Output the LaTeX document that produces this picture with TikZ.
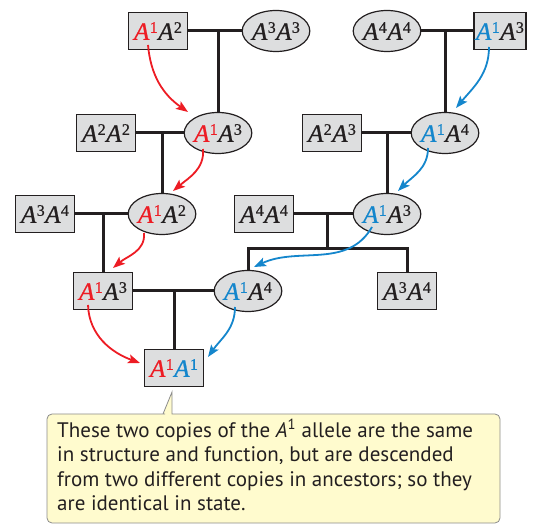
\documentclass[tikz,border=0pt]{standalone}
\usepackage{fontspec}
\setmainfont{Liberation Serif}
\newfontfamily\gfont[FakeBold=0.8]{Liberation Serif}
\newfontfamily\notefont{PT Sans}
\usetikzlibrary{arrows.meta,shapes.geometric}
\definecolor{ink}{RGB}{35,31,32}
\definecolor{boxgray}{RGB}{221,222,223}
\definecolor{redA}{RGB}{237,28,36}
\definecolor{blueA}{RGB}{20,134,204}
\definecolor{notefill}{RGB}{255,251,206}
\definecolor{noteline}{RGB}{140,140,140}
\newcommand{\Al}[2]{\textcolor{#1}{\textit{A}\kern0.3pt\raisebox{7pt}{\fontsize{16}{16}\selectfont #2}}}
\newcommand{\Gt}[4]{\Al{#1}{#2}\kern0.5pt\Al{#3}{#4}}
\tikzset{
  gbox/.style={draw=ink, line width=1.2pt, fill=boxgray, minimum width=59pt, minimum height=37pt, inner sep=0pt, font=\gfont\fontsize{25}{25}\selectfont},
  gell/.style={ellipse, draw=ink, line width=1.2pt, fill=boxgray, minimum width=59pt, minimum height=41pt, inner sep=0pt, font=\gfont\fontsize{25}{25}\selectfont},
  ped/.style={draw=ink, line width=3pt},
  redarr/.style={draw=redA, line width=1.8pt, -{Stealth[length=12pt,width=9pt,inset=2.5pt]}},
  bluearr/.style={draw=blueA, line width=1.8pt, -{Stealth[length=12pt,width=9pt,inset=2.5pt]}},
}
\begin{document}
\begin{tikzpicture}[x=1pt,y=-1pt]
\useasboundingbox (0,0) rectangle (533,526);
% row 1
\node[gbox] (n11) at (158,31) {\Gt{redA}{1}{ink}{2}};
\node[gell] (n12) at (276,31) {\Gt{ink}{3}{ink}{3}};
\node[gell] (n13) at (387,31) {\Gt{ink}{4}{ink}{4}};
\node[gbox, minimum width=52pt] (n14) at (500,31) {\Gt{blueA}{1}{ink}{3}};
% row 2
\node[gbox] (b21) at (106,133) {\Gt{ink}{2}{ink}{2}};
\node[gell] (c21) at (218,133) {\Gt{redA}{1}{ink}{3}};
\node[gbox] (b22) at (332,133) {\Gt{ink}{2}{ink}{3}};
\node[gell] (c22) at (445,133) {\Gt{blueA}{1}{ink}{4}};
% row 3
\node[gbox] (b31) at (45,214) {\Gt{ink}{3}{ink}{4}};
\node[gell] (c31) at (162,214) {\Gt{redA}{1}{ink}{2}};
\node[gbox] (b32) at (264,214) {\Gt{ink}{4}{ink}{4}};
\node[gell] (c32) at (387,214) {\Gt{blueA}{1}{ink}{3}};
% row 4
\node[gbox] (b41) at (103,291) {\Gt{redA}{1}{ink}{3}};
\node[gell] (c42) at (248,291) {\Gt{blueA}{1}{ink}{4}};
\node[gbox] (b43) at (407,291) {\Gt{ink}{3}{ink}{4}};
% row 5
\node[gbox] (b51) at (174,368) {\Gt{redA}{1}{blueA}{1}};
\coordinate (sib) at (327,249);
% pedigree lines
\draw[ped] (n11.east) -- (n12.west);
\draw[ped] (c21 |- n11.east) -- (c21.north);
\draw[ped] (n13.east) -- (n14.west);
\draw[ped] (c22 |- n14.west) -- (c22.north);
\draw[ped] (b21.east) -- (c21.west);
\draw[ped] (c31 |- b21.east) -- (c31.north);
\draw[ped] (b22.east) -- (c22.west);
\draw[ped] (c32 |- b22.east) -- (c32.north);
\draw[ped] (b31.east) -- (c31.west);
\draw[ped] (b41 |- b31.east) -- (b41.north);
\draw[ped] (b32.east) -- (c32.west);
\draw[ped] (sib |- b32.east) -- (sib);
\draw[ped] (c42.north) |- (b43.north |- sib) -- (b43.north);
\draw[ped] (b41.east) -- (c42.west);
\draw[ped] (b51 |- b41.east) -- (b51.north);
% red path
\draw[redarr] ([xshift=-10pt,yshift=-14pt]n11.center) to[out=-85,in=145] ([xshift=-30pt,yshift=21pt]c21.center);
\draw[redarr] ([xshift=-15pt,yshift=-16pt]c21.center) to[out=-85,in=40] ([xshift=11pt,yshift=23pt]c31.center);
\draw[redarr] ([xshift=-18pt,yshift=-19pt]c31.center) to[out=-85,in=40] ([xshift=10pt,yshift=23pt]b41.center);
\draw[redarr] ([xshift=-15pt,yshift=-14pt]b41.center) to[out=-88,in=160] ([xshift=-34pt,yshift=5pt]b51.center);
% blue path
\draw[bluearr] ([xshift=-11pt,yshift=-16pt]n14.center) to[out=-90,in=50] ([xshift=11pt,yshift=25pt]c22.center);
\draw[bluearr] ([xshift=-17pt,yshift=-15pt]c22.center) to[out=-90,in=45] ([xshift=11pt,yshift=23pt]c32.center);
\draw[bluearr] ([xshift=-15pt,yshift=-13pt]c32.center) to[out=-120,in=25] ([xshift=6pt,yshift=24pt]c42.center);
\draw[bluearr] ([xshift=-13pt,yshift=-16pt]c42.center) to[out=-90,in=55] ([xshift=34pt,yshift=11pt]b51.center);
% callout
\draw[fill=notefill, draw=noteline, line width=0.8pt, rounded corners=5pt]
  (47,523) -- (47,414) -- (160,414) [sharp corners] -- (163,414) -- (172,392) -- (172,414) [rounded corners=5pt] -- (500,414) -- (500,523) -- cycle;
\node[anchor=base west, align=left, inner sep=0pt, font=\notefont\fontsize{21}{24.5}\selectfont, text=ink] (note) at (57,510.5)
 {These two copies of the \textit{A}\textsuperscript{1} allele are the same\\
  in structure and function, but are descended\\
  from two different copies in ancestors; so they\\
  are identical in state.};
\end{tikzpicture}
\end{document}
